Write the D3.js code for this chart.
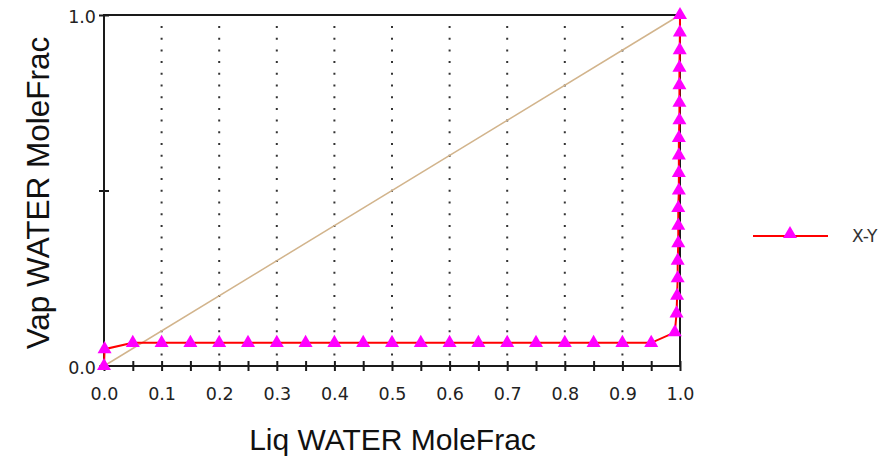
<!DOCTYPE html>
<html>
<head>
<meta charset="utf-8">
<script src="https://cdn.jsdelivr.net/npm/d3@7"></script>
<style>
  html, body { margin: 0; padding: 0; background: #fff; }
  svg { display: block; font-family: "Liberation Sans", Arial, sans-serif; }
</style>
</head>
<body>
<svg id="chart" width="890" height="458"></svg>
<script>
// liquid / vapour water mole fractions
const liqX = [0.0, 0.001, 0.05, 0.1, 0.15, 0.2, 0.25, 0.3, 0.35, 0.4, 0.45, 0.5,
  0.55, 0.6, 0.65, 0.7, 0.75, 0.8, 0.85, 0.9, 0.95,
  0.991, 0.994, 0.995, 0.996, 0.996, 0.997, 0.997, 0.997, 0.998, 0.998,
  0.998, 0.998, 0.999, 0.999, 0.999, 0.999, 0.9995, 0.9998, 1.0];
const vapY = [0.0, 0.048, 0.066, 0.066, 0.066, 0.066, 0.066, 0.066, 0.066, 0.066, 0.066, 0.066,
  0.066, 0.066, 0.066, 0.066, 0.066, 0.066, 0.066, 0.066, 0.066,
  0.096, 0.15, 0.2, 0.25, 0.3, 0.35, 0.4, 0.45, 0.5, 0.55,
  0.6, 0.65, 0.7, 0.75, 0.8, 0.85, 0.9, 0.95, 1.0];
const diagX = [0, 1];
const xTickLabels = [0, 0.1, 0.2, 0.3, 0.4, 0.5, 0.6, 0.7, 0.8, 0.9, 1.0];
const xTickMarks = [0, 0.05, 0.1, 0.15, 0.2, 0.25, 0.3, 0.35, 0.4, 0.45, 0.5,
  0.55, 0.6, 0.65, 0.7, 0.75, 0.8, 0.85, 0.9, 0.95, 1.0];
const yTickLabels = [0, 1.0];
const yTickMarks = [0, 0.5, 1.0];
const gridX = [0.1, 0.2, 0.3, 0.4, 0.5, 0.6, 0.7, 0.8, 0.9];
const seriesName = 'X-Y';

const LEFT = 104, RIGHT = 680, TOP = 15, BOTTOM = 366;
const AXIS_COLOR = '#1a1a1a';
const LINE_COLOR = '#ff0000';
const MARK_COLOR = '#ff00ff';
const DIAG_COLOR = '#d2b48c';
const TICK_FONT = '"DejaVu Sans", Verdana, sans-serif';

const svg = d3.select('#chart');
const x = d3.scaleLinear().domain([0, 1]).range([LEFT, RIGHT]);
const y = d3.scaleLinear().domain([0, 1]).range([BOTTOM, TOP]);

// dotted vertical grid
svg.append('g').selectAll('line')
  .data(gridX)
  .enter().append('line')
  .attr('x1', d => x(d)).attr('x2', d => x(d))
  .attr('y1', TOP + 11).attr('y2', BOTTOM)
  .attr('stroke', '#333')
  .attr('stroke-width', 2)
  .attr('stroke-dasharray', '2,9.7');

// diagonal reference
svg.append('line')
  .attr('x1', x(diagX[0])).attr('y1', y(diagX[0]))
  .attr('x2', x(diagX[1])).attr('y2', y(diagX[1]))
  .attr('stroke', DIAG_COLOR)
  .attr('stroke-width', 1.5);

// frame
svg.append('rect')
  .attr('x', LEFT).attr('y', TOP)
  .attr('width', RIGHT - LEFT).attr('height', BOTTOM - TOP)
  .attr('fill', 'none')
  .attr('stroke', AXIS_COLOR)
  .attr('stroke-width', 2);

// x axis ticks and labels
const xAxis = d3.axisBottom(x)
  .tickValues(xTickMarks)
  .tickSizeInner(5)
  .tickSizeOuter(0)
  .tickFormat(d => xTickLabels.some(v => Math.abs(v - d) < 1e-9) ? d3.format('.1f')(d) : '');
const gx = svg.append('g').attr('transform', `translate(0,${BOTTOM})`).call(xAxis);
gx.select('.domain').remove();
gx.selectAll('.tick line').attr('y1', -5).attr('stroke', AXIS_COLOR).attr('stroke-width', 2);
gx.selectAll('.tick text')
  .attr('y', 34)
  .attr('dy', '0')
  .style('font-size', '17.5px')
  .style('font-family', TICK_FONT)
  .attr('fill', '#222');

// y axis ticks and labels
const yAxis = d3.axisLeft(y)
  .tickValues(yTickMarks)
  .tickSizeInner(5)
  .tickSizeOuter(0)
  .tickFormat(d => yTickLabels.some(v => Math.abs(v - d) < 1e-9) ? d3.format('.1f')(d) : '');
const gy = svg.append('g').attr('transform', `translate(${LEFT},0)`).call(yAxis);
gy.select('.domain').remove();
gy.selectAll('.tick line').attr('x1', 5).attr('stroke', AXIS_COLOR).attr('stroke-width', 2);
gy.selectAll('.tick text')
  .attr('x', -8)
  .attr('dy', '0.4em')
  .style('font-size', '17.5px')
  .style('font-family', TICK_FONT)
  .attr('fill', '#222');

// series
const pts = liqX.map((v, i) => [v, vapY[i]]);
const line = d3.line().x(d => x(d[0])).y(d => y(d[1]));
svg.append('path')
  .datum(pts)
  .attr('d', line)
  .attr('fill', 'none')
  .attr('stroke', LINE_COLOR)
  .attr('stroke-width', 2);

const tri = d3.symbol().type(d3.symbolTriangle).size(85);
svg.append('g').selectAll('path')
  .data(pts)
  .enter().append('path')
  .attr('d', tri)
  .attr('transform', d => `translate(${x(d[0])},${y(d[1])})`)
  .attr('fill', MARK_COLOR);

// axis titles
svg.append('text')
  .attr('x', 392.5)
  .attr('y', 450)
  .attr('text-anchor', 'middle')
  .attr('font-size', '30px')
  .attr('fill', '#111')
  .text('Liq WATER MoleFrac');

svg.append('text')
  .attr('transform', 'translate(49,193) rotate(-90)')
  .attr('text-anchor', 'middle')
  .attr('font-size', '31.5px')
  .attr('fill', '#111')
  .text('Vap WATER MoleFrac');

// legend
const legend = svg.append('g').attr('transform', 'translate(753,236)');
legend.append('line')
  .attr('x1', 0).attr('x2', 75)
  .attr('stroke', LINE_COLOR).attr('stroke-width', 2);
legend.append('path')
  .attr('d', tri)
  .attr('transform', 'translate(37,-2)')
  .attr('fill', MARK_COLOR);
legend.append('text')
  .attr('x', 99).attr('y', 6)
  .style('font-size', '17px')
  .style('font-family', TICK_FONT)
  .attr('fill', '#333')
  .text(seriesName);
</script>
</body>
</html>
